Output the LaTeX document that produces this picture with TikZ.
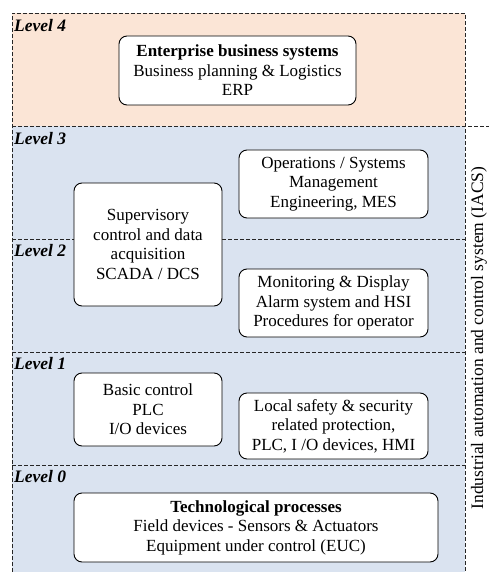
\documentclass[tikz,border=0pt]{standalone}
\usepackage{fontspec}
\setmainfont{Liberation Serif}
\definecolor{peach}{RGB}{251,229,214}
\definecolor{lblue}{RGB}{218,227,240}
\begin{document}
\begin{tikzpicture}[x=1pt,y=-1pt,
  lvl/.style={dash pattern=on 4pt off 2pt, line width=0.8pt, draw=black!85},
  box/.style={draw, rounded corners=8pt, fill=white, line width=0.9pt, align=center,
    font=\fontsize{17}{19.5}\selectfont, inner sep=0pt},
  lbl/.style={font=\fontsize{17.5}{20}\selectfont\bfseries\itshape, anchor=west, inner sep=0pt}]
\useasboundingbox (0,0) rectangle (489,572);
\fill[peach] (12,13) rectangle (465,126);
\fill[lblue] (12,126) rectangle (465,572);
\draw[lvl] (12,572) -- (12,13) -- (465,13) -- (465,572);
\draw[lvl] (12,126) -- (489,126);
\draw[lvl] (12,239) -- (465,239);
\draw[lvl] (12,352) -- (465,352);
\draw[lvl] (12,465) -- (465,465);

\node[lbl] (l4) at (14,26) {Level 4};
\node[lbl] (l3) at (14,139) {Level 3};
\node[lbl] (l2) at (14,251) {Level 2};
\node[lbl] (l1) at (14,364) {Level 1};
\node[lbl] (l0) at (14,477) {Level 0};

\node[box, minimum width=237pt, minimum height=69pt] (erp) at (237.5,70.5)
  {\textbf{Enterprise business systems}\\Business planning \& Logistics\\ERP};
\node[box, minimum width=189pt, minimum height=68pt] (ops) at (333.5,184)
  {Operations / Systems\\Management\\Engineering, MES};
\node[box, minimum width=148pt, minimum height=123pt, text depth=-16pt] (scada) at (148,244.5)
  {Supervisory\\control and data\\acquisition\\SCADA / DCS};
\node[box, minimum width=189pt, minimum height=68pt] (mon) at (333.5,303)
  {Monitoring \& Display\\Alarm system and HSI\\Procedures for operator};
\node[box, minimum width=148pt, minimum height=73pt] (basic) at (148,409.5)
  {Basic control\\PLC\\I/O devices};
\node[box, minimum width=189pt, minimum height=66pt] (local) at (333.5,426)
  {Local safety \& security\\related protection,\\PLC, I /O devices, HMI};
\node[box, minimum width=364pt, minimum height=69pt] (tech) at (256,527.5)
  {\textbf{Technological processes}\\Field devices - Sensors \& Actuators\\Equipment under control (EUC)};

\node[rotate=90, font=\fontsize{17.5}{20}\selectfont, inner sep=0pt] (iacs) at (479,338)
  {Industrial automation and control system (IACS)};
\end{tikzpicture}
\end{document}
